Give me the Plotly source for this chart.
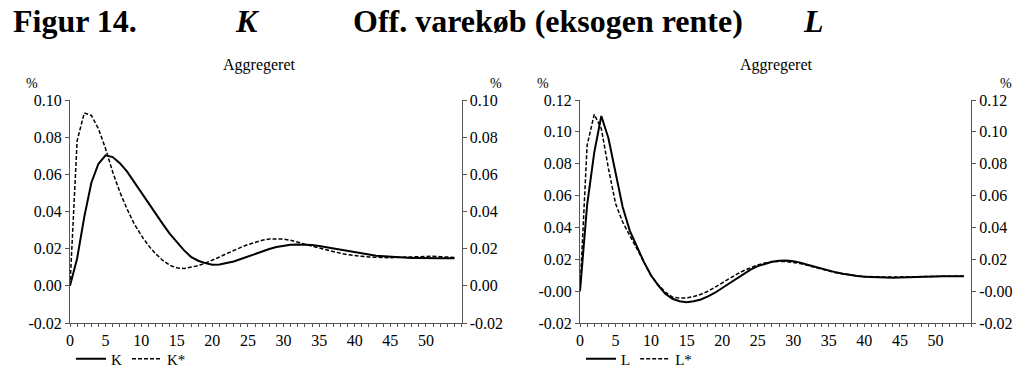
import plotly.graph_objects as go

t = list(range(55))

K = [0.000, 0.0147, 0.037, 0.0555, 0.0657, 0.0702, 0.0693, 0.066, 0.0616, 0.0559,
     0.0505, 0.0448, 0.0389, 0.0335, 0.0281, 0.0236, 0.0192, 0.0156, 0.0135, 0.0122,
     0.0113, 0.0115, 0.0122, 0.0131, 0.0144, 0.0158, 0.017, 0.0185, 0.0198, 0.0209,
     0.0216, 0.0221, 0.0223, 0.0223, 0.022, 0.0214, 0.0207, 0.020, 0.0193, 0.0186,
     0.0178, 0.0173, 0.0168, 0.0162, 0.0159, 0.0155, 0.0153, 0.0151, 0.015, 0.015,
     0.0148, 0.0148, 0.0148, 0.0148, 0.0148]

K_star = [0.000, 0.078, 0.093, 0.0917, 0.0845, 0.0738, 0.0612, 0.0505, 0.0415, 0.0335,
          0.0272, 0.0218, 0.0174, 0.0138, 0.0111, 0.0097, 0.0093, 0.0102, 0.0108, 0.0122,
          0.0137, 0.0155, 0.0173, 0.0191, 0.0207, 0.0222, 0.0234, 0.0245, 0.0252, 0.0254,
          0.0252, 0.0245, 0.0236, 0.0225, 0.0214, 0.0204, 0.0193, 0.0184, 0.0175, 0.0168,
          0.0162, 0.0159, 0.0155, 0.0153, 0.0151, 0.0151, 0.0153, 0.0155, 0.0157, 0.0159,
          0.0159, 0.0159, 0.0157, 0.0155, 0.0153]

L = [0.000, 0.054, 0.087, 0.110, 0.096, 0.0737, 0.0528, 0.038, 0.0276, 0.0182,
     0.0098, 0.0036, -0.0017, -0.0048, -0.0063, -0.0069, -0.0064, -0.0052, -0.0033, -0.0010,
     0.0020, 0.0050, 0.0080, 0.0108, 0.0135, 0.0157, 0.0173, 0.0184, 0.0191, 0.0192,
     0.0187, 0.0179, 0.0166, 0.0154, 0.0141, 0.0128, 0.0118, 0.0109, 0.0101, 0.0095,
     0.009, 0.0088, 0.0086, 0.0084, 0.0084, 0.0086, 0.0088, 0.009, 0.0092, 0.0093,
     0.0094, 0.0094, 0.0094, 0.0094, 0.0094]

L_star = [0.000, 0.0915, 0.111, 0.102, 0.077, 0.055, 0.0434, 0.035, 0.0266, 0.0176,
          0.0098, 0.004, -0.0006, -0.0038, -0.0044, -0.0042, -0.0034, -0.0020, -0.0001, 0.0025,
          0.0052, 0.0080, 0.0105, 0.0128, 0.0148, 0.0165, 0.0177, 0.0184, 0.0187, 0.0186,
          0.0181, 0.0173, 0.0162, 0.015, 0.0138, 0.0126, 0.0116, 0.0108, 0.0101, 0.0096,
          0.0092, 0.009, 0.0089, 0.0089, 0.0089, 0.009, 0.0091, 0.0092, 0.0093, 0.0094,
          0.0095, 0.0095, 0.0095, 0.0095, 0.0095]

x_tick_vals = [0, 5, 10, 15, 20, 25, 30, 35, 40, 45, 50]
left_y_vals = [-0.02, 0.00, 0.02, 0.04, 0.06, 0.08, 0.10]
left_y_text = ["-0.02", "0.00", "0.02", "0.04", "0.06", "0.08", "0.10"]
right_y_vals = [-0.02, 0.00, 0.02, 0.04, 0.06, 0.08, 0.10, 0.12]
right_y_text = ["-0.02", "-0.00", "0.02", "0.04", "0.06", "0.08", "0.10", "0.12"]

FONT = "Liberation Serif"
W, H = 1017, 367

fig = go.Figure()
fig.add_trace(go.Scatter(x=t, y=K, mode="lines", name="K", line=dict(color="black", width=2),
                         xaxis="x", yaxis="y", legend="legend", hoverinfo="skip"))
fig.add_trace(go.Scatter(x=t, y=K_star, mode="lines", name="K*",
                         line=dict(color="black", width=1.5, dash="4px,2px"),
                         xaxis="x", yaxis="y", legend="legend", hoverinfo="skip"))
# invisible companion trace so the right-hand mirror axis is drawn
fig.add_trace(go.Scatter(x=t, y=K, mode="lines", line=dict(width=0), opacity=0,
                         showlegend=False, xaxis="x", yaxis="y2", hoverinfo="skip"))
fig.add_trace(go.Scatter(x=t, y=L, mode="lines", name="L", line=dict(color="black", width=2),
                         xaxis="x2", yaxis="y3", legend="legend2", hoverinfo="skip"))
fig.add_trace(go.Scatter(x=t, y=L_star, mode="lines", name="L*",
                         line=dict(color="black", width=1.5, dash="4px,2px"),
                         xaxis="x2", yaxis="y3", legend="legend2", hoverinfo="skip"))
fig.add_trace(go.Scatter(x=t, y=L, mode="lines", line=dict(width=0), opacity=0,
                         showlegend=False, xaxis="x2", yaxis="y4", hoverinfo="skip"))

ytop = 1 - 100 / H
ybot = 1 - 323 / H
dom1 = [70 / W, 461.5 / W]
dom2 = [580 / W, 971 / W]
axcol = "#555555"
tickfont = dict(family=FONT, size=16, color="black")

def xaxis(domain, anchor):
    return dict(domain=domain, anchor=anchor, range=[0, 55], tickmode="array",
                tickvals=x_tick_vals, ticks="outside", ticklen=3, tickcolor=axcol,
                showline=True, linecolor=axcol, linewidth=1, showgrid=False, zeroline=False,
                tickfont=tickfont,
                minor=dict(dtick=1, tick0=0, ticks="outside", ticklen=3, tickcolor=axcol,
                           showgrid=False))

def yaxis(anchor, rng, vals, text, side="left", overlaying=None):
    d = dict(domain=[ybot, ytop], anchor=anchor, range=rng, tickmode="array",
             tickvals=vals, ticktext=text, ticks="outside", ticklen=4, tickcolor=axcol,
             showline=True, linecolor=axcol, linewidth=1, showgrid=False, zeroline=False,
             tickfont=tickfont, side=side)
    if overlaying:
        d["overlaying"] = overlaying
    return d

legend_common = dict(orientation="h", xanchor="left", yanchor="middle",
                     font=dict(family=FONT, size=15), itemwidth=30,
                     bgcolor="rgba(0,0,0,0)", tracegroupgap=0)

fig.update_layout(
    width=W, height=H, margin=dict(l=0, r=0, t=0, b=0, autoexpand=False),
    paper_bgcolor="white", plot_bgcolor="white",
    font=dict(family=FONT, color="black"),
    xaxis=xaxis(dom1, "y"),
    yaxis=yaxis("x", [-0.02, 0.10], left_y_vals, left_y_text),
    yaxis2=yaxis("x", [-0.02, 0.10], left_y_vals, left_y_text, side="right", overlaying="y"),
    xaxis2=xaxis(dom2, "y3"),
    yaxis3=yaxis("x2", [-0.02, 0.12], right_y_vals, right_y_text),
    yaxis4=yaxis("x2", [-0.02, 0.12], right_y_vals, right_y_text, side="right", overlaying="y3"),
    legend=dict(legend_common, x=71 / W, y=1 - 359 / H),
    legend2=dict(legend_common, x=581 / W, y=1 - 359 / H),
    showlegend=True,
)

def ann(text, x, y, size, xanchor="center", bold=False, italic=False):
    s = text
    if bold:
        s = "<b>" + s + "</b>"
    if italic:
        s = "<i>" + s + "</i>"
    fig.add_annotation(text=s, x=x / W, y=1 - y / H, xref="paper", yref="paper",
                       xanchor=xanchor, yanchor="middle", showarrow=False,
                       font=dict(family=FONT, size=size, color="black"))

ann("Figur 14.", 11, 21, 32, xanchor="left", bold=True)
ann("K", 247, 21, 32, bold=True, italic=True)
ann("Off. varekøb (eksogen rente)", 351, 21, 32, xanchor="left", bold=True)
ann("L", 813, 21, 32, bold=True, italic=True)
ann("Aggregeret", 259, 65, 16)
ann("Aggregeret", 776, 65, 16)
ann("%", 32, 83, 14)
ann("%", 496, 83, 14)
ann("%", 543, 83, 14)
ann("%", 1006, 83, 14)

fig.write_html("out.html")
